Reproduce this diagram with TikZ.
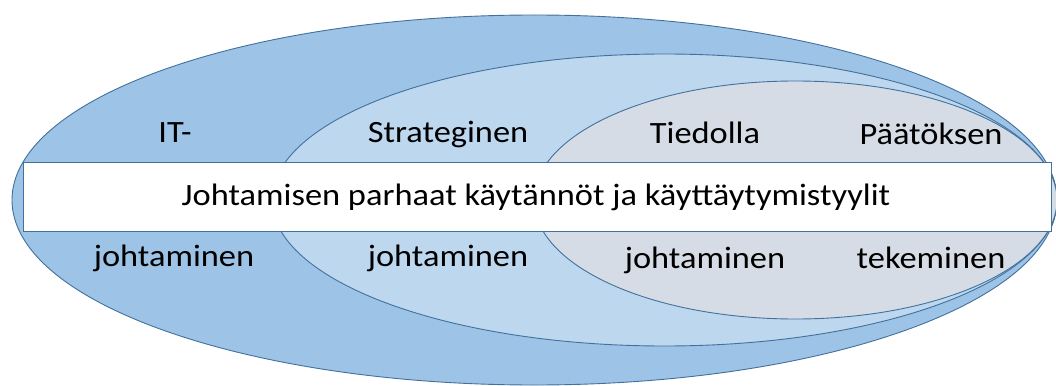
\documentclass[tikz,border=0pt]{standalone}
\usepackage{fontspec}
\setmainfont{Carlito}
\usetikzlibrary{shapes.geometric}
\definecolor{edgeblue}{HTML}{41719C}
\definecolor{outerfill}{HTML}{9DC3E6}
\definecolor{midfill}{HTML}{BDD7EE}
\definecolor{innerfill}{HTML}{D6DCE5}
% slightly widened lettering
\newcommand{\widetext}[1]{\scalebox{1.11}[1]{#1}}
\tikzset{
  zone/.style={ellipse, draw=edgeblue, line width=0.9pt, inner sep=0pt, outer sep=0pt},
  label/.style={anchor=base, font=\fontsize{31}{37}\selectfont, text=black, inner sep=0pt},
}
\begin{document}
\begin{tikzpicture}[x=1pt, y=-1pt]
  \useasboundingbox (0,0) rectangle (1056,385);
  % nested zones, all meeting at the right-hand point
  \node[zone, fill=outerfill, minimum width=1045pt, minimum height=370pt] (outer) at (534.5,200) {};
  \node[zone, fill=midfill, minimum width=785pt, minimum height=292pt] (middle) at (664.5,200) {};
  \node[zone, fill=innerfill, minimum width=523pt, minimum height=238pt] (inner) at (795.5,200) {};
  % central band
  \node[draw=edgeblue, fill=white, line width=0.9pt, minimum width=1028pt, minimum height=69pt, inner sep=0pt] (band) at (537,196.5) {};
  \node[label] (bandtext) at (536,205) {\widetext{Johtamisen parhaat käytännöt ja käyttäytymistyylit}};
  % zone labels
  \node[label] (it) at (175,142) {\widetext{IT-}};
  \node[label] (itb) at (174,266) {\widetext{johtaminen}};
  \node[label] (strat) at (448,142) {\widetext{Strateginen}};
  \node[label] (stratb) at (448,266) {\widetext{johtaminen}};
  \node[label] (tieto) at (705,143) {\widetext{Tiedolla}};
  \node[label] (tietob) at (705,268) {\widetext{johtaminen}};
  \node[label] (paat) at (931,144) {\widetext{Päätöksen}};
  \node[label] (paatb) at (931,268) {\widetext{tekeminen}};
\end{tikzpicture}
\end{document}
